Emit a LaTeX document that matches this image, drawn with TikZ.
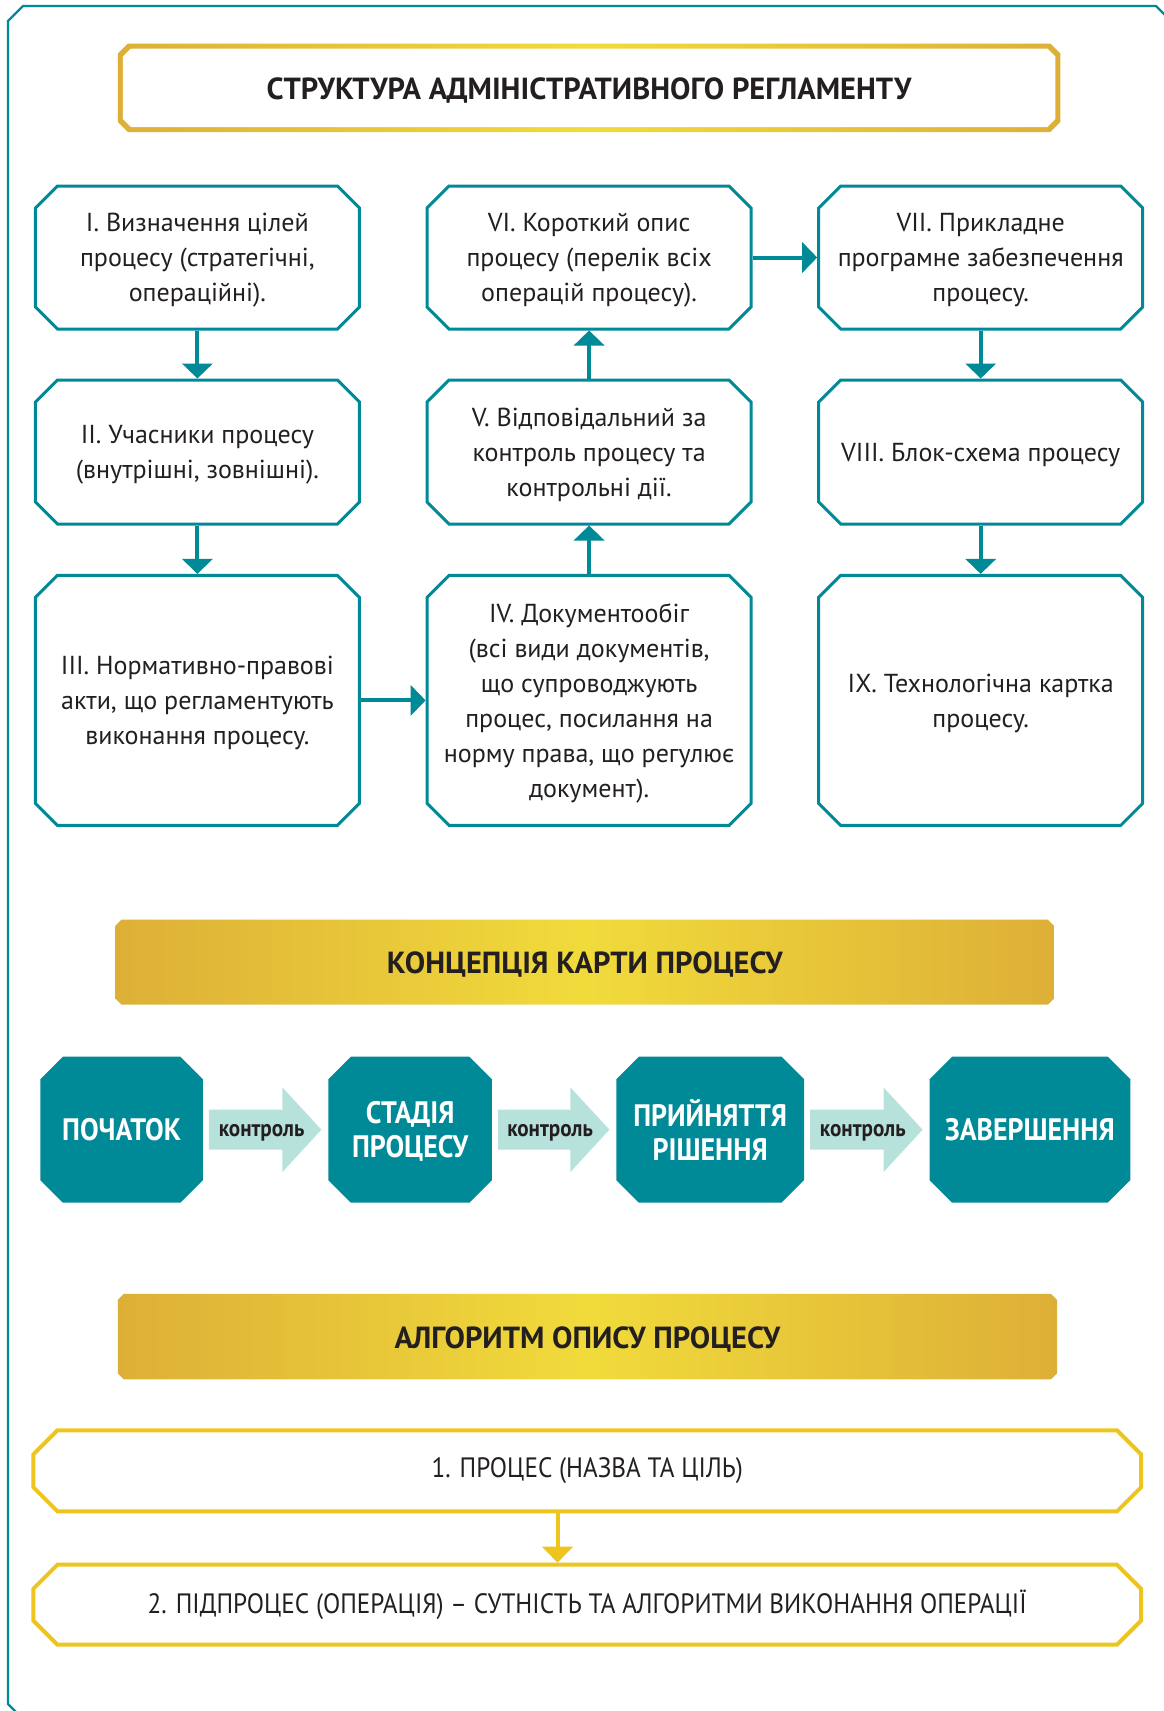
\documentclass[tikz,border=0pt]{standalone}
\usepackage{fontspec}
\setmainfont{PT Sans}
\newfontfamily\cond{PT Sans}[FakeStretch=0.9]
\usetikzlibrary{calc,arrows.meta,backgrounds}

\definecolor{tealb}{RGB}{0,137,150}
\definecolor{mint}{RGB}{183,225,219}
\definecolor{goldd}{RGB}{221,175,55}
\definecolor{goldl}{RGB}{241,219,59}
\definecolor{yelb}{RGB}{238,196,31}
\definecolor{ink}{RGB}{35,31,32}

% chamfered polygon from explicit corners: x1,y1,x2,y2,chamfer
\newcommand\champ[5]{(#1+#5,#2) -- (#3-#5,#2) -- (#3,#2+#5) -- (#3,#4-#5) -- (#3-#5,#4) -- (#1+#5,#4) -- (#1,#4-#5) -- (#1,#2+#5) -- cycle}
% chamfered polygon around a node: name, chamfer
\newcommand\chamf[2]{($(#1.north west)+(#2,0)$) -- ($(#1.north east)+(-#2,0)$) -- ($(#1.north east)+(0,#2)$) -- ($(#1.south east)+(0,-#2)$) -- ($(#1.south east)+(-#2,0)$) -- ($(#1.south west)+(#2,0)$) -- ($(#1.south west)+(0,-#2)$) -- ($(#1.north west)+(0,#2)$) -- cycle}

\begin{document}
\begin{tikzpicture}[x=1pt,y=-1pt,
  every node/.style={inner sep=0pt, outer sep=0pt, text=ink},
  tbox/.style={minimum width=324pt, align=center, text depth=-4pt, font=\fontsize{26}{35}\selectfont},
  tline/.style={draw=tealb, line width=3pt},
  tarrow/.style={draw=tealb, line width=4pt, shorten <=1.5pt, shorten >=1.5pt, -{Triangle[width=30pt,length=15pt]}},
  octo/.style={minimum width=#1, minimum height=146pt, align=center, text depth=0pt, text=white, font=\cond\bfseries\fontsize{31}{34}\selectfont},
  ctrl/.style={font=\cond\bfseries\fontsize{23.5}{25}\selectfont},
  htext/.style={font=\bfseries\fontsize{30.5}{32}\selectfont},
  abox/.style={minimum width=1107.6pt, align=center, font=\cond\fontsize{28}{30}\selectfont},
  yline/.style={draw=yelb, line width=4pt},
  yarrow/.style={draw=yelb, line width=4pt, shorten <=2pt, shorten >=2pt, -{Triangle[width=30pt,length=16pt]}},
  hfill/.style={left color=goldd, right color=goldd, middle color=goldl}]

\useasboundingbox (0,0) rectangle (1164,1711);

% outer frame
\begin{scope}
  \clip (0,0) rectangle (1164,1711);
  \draw[tealb, line width=2.2pt] (8,21) -- (23,6) -- (1156,6) -- (1175,25) -- (1175,1725) -- (29,1725) -- (8,1704) -- cycle;
\end{scope}

% main title
\shade[hfill] \champ{117.8}{43.6}{1060.4}{132}{10};
\fill[white] \champ{122.8}{48.6}{1055.4}{127}{8};
\node[htext, anchor=base] (t1) at (589,99) {СТРУКТУРА АДМІНІСТРАТИВНОГО РЕГЛАМЕНТУ};

% structure boxes
\node[tbox, minimum height=143pt] (b1) at (197.4,257.5) {I. Визначення цілей\\процесу (стратегічні,\\операційні).};
\node[tbox, minimum height=144pt] (b2) at (197.4,452) {II. Учасники процесу\\(внутрішні, зовнішні).};
\node[tbox, minimum height=250pt] (b3) at (197.4,700.4) {III. Нормативно-правові\\акти, що регламентують\\виконання процесу.};
\node[tbox, minimum height=250pt] (b4) at (589.1,700.4) {IV. Документообіг\\(всі види документів,\\що супроводжують\\процес, посилання на\\норму права, що регулює\\документ).};
\node[tbox, minimum height=144pt] (b5) at (589.1,452) {V. Відповідальний за\\контроль процесу та\\контрольні дії.};
\node[tbox, minimum height=143pt] (b6) at (589.1,257.5) {VI. Короткий опис\\процесу (перелік всіх\\операцій процесу).};
\node[tbox, minimum height=143pt] (b7) at (980.7,257.5) {VII. Прикладне\\програмне забезпечення\\процесу.};
\node[tbox, minimum height=144pt] (b8) at (980.7,452) {VIII. Блок-схема процесу};
\node[tbox, minimum height=250pt] (b9) at (980.7,700.4) {IX. Технологічна картка\\процесу.};
\foreach \i in {1,...,9} \draw[tline] \chamf{b\i}{22};

\draw[tarrow] (b1) -- (b2);
\draw[tarrow] (b2) -- (b3);
\draw[tarrow] (b3) -- (b4);
\draw[tarrow] (b4) -- (b5);
\draw[tarrow] (b5) -- (b6);
\draw[tarrow] (b6) -- (b7);
\draw[tarrow] (b7) -- (b8);
\draw[tarrow] (b8) -- (b9);

% process map concept
\shade[hfill] \champ{115.6}{919.6}{1053.8}{1004.7}{6};
\node[htext, anchor=base] (h2) at (584.7,973) {КОНЦЕПЦІЯ КАРТИ ПРОЦЕСУ};

\node[octo=162.5pt] (p1) at (121.65,1129.7) {ПОЧАТОК};
\node[octo=163.4pt] (p2) at (410.1,1129.7) {СТАДІЯ\\ПРОЦЕСУ};
\node[octo=187.6pt] (p3) at (710.2,1129.7) {ПРИЙНЯТТЯ\\РІШЕННЯ};
\node[octo=200.7pt] (p4) at (1029.9,1129.7) {ЗАВЕРШЕННЯ};
\begin{scope}[on background layer]
  \foreach \i in {1,...,4} \fill[tealb] \chamf{p\i}{22.5};
\end{scope}

\foreach \a/\b in {1/2,2/3,3/4} {
  \fill[mint] ($(p\a.east)+(6,-20)$) -- ($(p\b.west)+(-46,-20)$) -- ($(p\b.west)+(-46,-42.3)$)
    -- ($(p\b.west)+(-7,0)$) -- ($(p\b.west)+(-46,42.3)$) -- ($(p\b.west)+(-46,20)$)
    -- ($(p\a.east)+(6,20)$) -- cycle;
  \node[ctrl, anchor=base] (c\a) at ($(p\a.east)!0.5!(p\b.west)+(-4,6.3)$) {контроль};
}

% description algorithm
\shade[hfill] \champ{117.8}{1293.8}{1057}{1379.3}{6};
\node[htext, anchor=base] (h3) at (587.4,1348) {АЛГОРИТМ ОПИСУ ПРОЦЕСУ};

\node[abox, minimum height=81pt] (a1) at (587.2,1470.8) {1. ПРОЦЕС (НАЗВА ТА ЦІЛЬ)};
\node[abox, minimum height=80pt] (a2) at (587.2,1604.7) {2. ПІДПРОЦЕС (ОПЕРАЦІЯ) – СУТНІСТЬ ТА АЛГОРИТМИ ВИКОНАННЯ ОПЕРАЦІЇ};
\draw[yline] \chamf{a1}{24};
\draw[yline] \chamf{a2}{24};
\coordinate (ax) at (557.5,1540);
\draw[yarrow] (a1.south -| ax) -- (a2.north -| ax);

\end{tikzpicture}
\end{document}
